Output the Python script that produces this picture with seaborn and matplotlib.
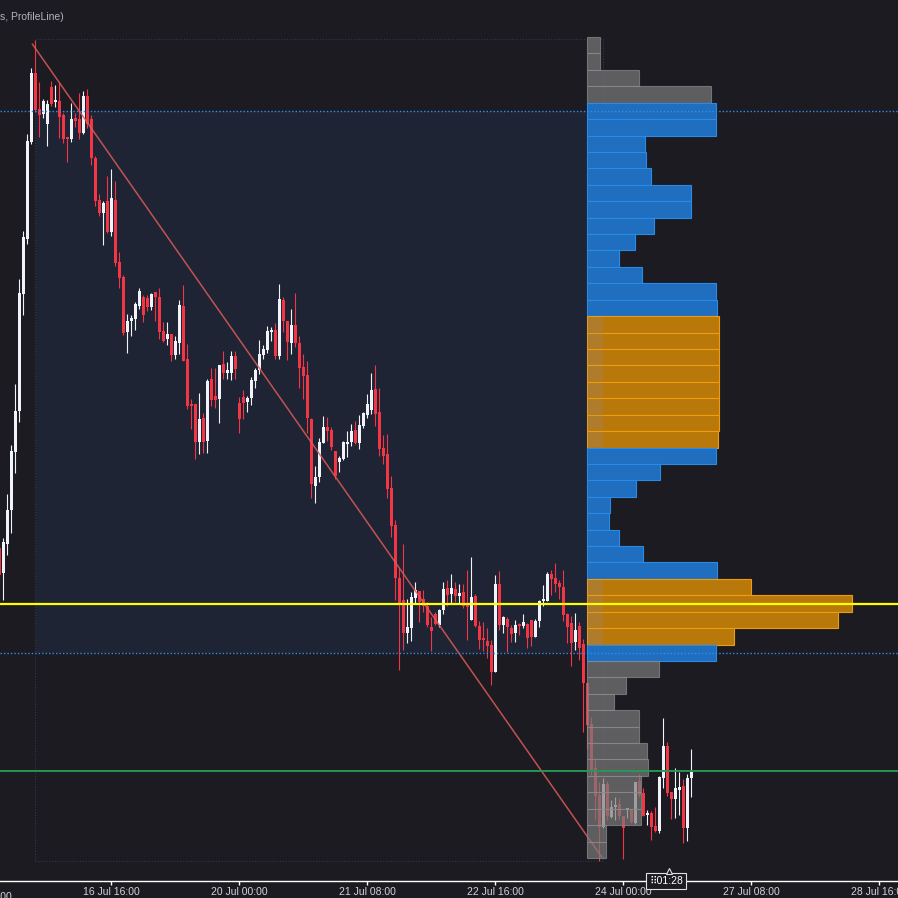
import numpy as np
import matplotlib
matplotlib.use("Agg")
import matplotlib.pyplot as plt
from matplotlib.patches import Rectangle
import seaborn as sns

sns.set_style("dark")
plt.rcParams["font.family"] = ["Liberation Sans", "DejaVu Sans"]

# ---- 1h candles (price in chart units), bar 0 = 15 Jul 12:00 ----
opens = [352, 327, 356, 390, 448, 489, 606, 661, 758, 827, 791, 786, 776, 813, 798, 799, 785, 763, 761, 782,
         781, 767, 804, 781, 742, 700, 687, 699, 668, 700, 638, 623, 568, 579, 581, 594, 603, 602, 593, 608,
         603, 569, 561, 566, 545, 557, 594, 541, 496, 496, 458, 482, 459, 521, 504, 501, 536, 527, 527, 544,
         497, 503, 498, 502, 519, 530, 545, 550, 568, 570, 544, 600, 579, 557, 575, 557, 533, 525, 481, 414,
         423, 457, 473, 470, 449, 438, 441, 456, 458, 470, 457, 474, 485, 490, 511, 488, 452, 446, 412, 375,
         322, 300, 267, 272, 302, 309, 301, 294, 273, 286, 275, 290, 312, 306, 311, 304, 308, 295, 280, 304,
         274, 262, 259, 255, 228, 316, 275, 281, 272, 267, 276, 274, 276, 280, 263, 279, 299, 299, 326, 322,
         317, 313, 286, 277, 258, 274, 256, 217, 176, 132, 105, 73, 116, 83, 93, 96, 84, 90, 91, 77,
         119, 107, 85, 87, 74, 69, 122, 154, 108, 101, 110, 114, 72, 122]
highs = [355, 362, 406, 455, 516, 621, 669, 766, 832, 860, 818, 801, 800, 819, 815, 818, 787, 763, 797, 787,
         807, 809, 811, 785, 744, 706, 699, 724, 731, 719, 648, 625, 586, 585, 598, 612, 605, 605, 607, 608,
         612, 578, 578, 566, 564, 600, 615, 556, 501, 496, 507, 487, 521, 532, 532, 535, 549, 538, 549, 549,
         503, 510, 504, 523, 532, 560, 555, 574, 573, 577, 616, 603, 579, 591, 607, 564, 546, 539, 482, 434,
         462, 484, 483, 473, 449, 444, 459, 469, 476, 479, 485, 488, 506, 527, 535, 512, 465, 466, 424, 380,
         332, 356, 301, 308, 318, 309, 310, 298, 283, 288, 291, 318, 320, 326, 318, 316, 316, 330, 343, 306,
         279, 278, 272, 260, 325, 329, 284, 283, 275, 280, 277, 286, 277, 280, 281, 300, 315, 328, 330, 337,
         320, 330, 287, 284, 287, 278, 261, 217, 183, 140, 118, 122, 119, 100, 103, 102, 84, 92, 91, 118,
         126, 112, 90, 89, 93, 124, 182, 158, 108, 132, 128, 121, 126, 151]
lows = [315, 300, 345, 367, 427, 478, 585, 656, 756, 788, 763, 782, 754, 794, 793, 762, 757, 738, 758, 773,
        761, 766, 772, 735, 694, 684, 655, 667, 664, 634, 612, 565, 547, 564, 570, 591, 578, 589, 590, 579,
        561, 558, 555, 539, 541, 546, 539, 491, 471, 441, 446, 447, 447, 494, 492, 477, 521, 521, 520, 521,
        467, 481, 488, 495, 512, 526, 541, 547, 559, 541, 541, 568, 540, 546, 553, 512, 501, 467, 402, 397,
        418, 457, 459, 450, 421, 428, 440, 443, 454, 456, 451, 472, 482, 486, 474, 444, 436, 402, 363, 300,
        230, 250, 257, 259, 297, 278, 288, 273, 249, 275, 273, 286, 294, 297, 298, 297, 292, 260, 280, 273,
        251, 249, 242, 215, 228, 270, 267, 248, 258, 258, 265, 272, 252, 254, 263, 273, 294, 299, 305, 308,
        301, 279, 257, 234, 250, 240, 168, 151, 125, 80, 39, 72, 80, 82, 80, 81, 41, 82, 77, 76,
        103, 84, 75, 60, 68, 67, 112, 104, 81, 82, 85, 57, 59, 103]
closes = [325, 358, 390, 449, 489, 607, 663, 759, 827, 790, 785, 799, 796, 796, 800, 783, 761, 761, 781, 779,
          767, 804, 776, 742, 699, 687, 697, 668, 702, 637, 622, 567, 579, 582, 596, 609, 585, 593, 606, 603,
          568, 559, 566, 545, 559, 595, 539, 494, 494, 458, 481, 458, 519, 500, 500, 535, 527, 530, 544, 531,
          481, 497, 502, 520, 530, 546, 551, 569, 570, 544, 601, 579, 558, 575, 557, 532, 524, 482, 416, 423,
          458, 473, 469, 453, 424, 442, 458, 458, 469, 457, 475, 487, 496, 510, 486, 451, 444, 411, 374, 322,
          297, 267, 273, 303, 310, 298, 294, 275, 269, 276, 290, 311, 305, 312, 304, 307, 294, 293, 303, 274,
          260, 260, 254, 228, 316, 275, 283, 273, 266, 275, 274, 278, 262, 263, 279, 299, 301, 326, 321, 316,
          313, 285, 273, 257, 270, 252, 217, 175, 130, 104, 73, 116, 84, 93, 95, 84, 72, 92, 78, 118,
          105, 84, 87, 73, 69, 123, 154, 107, 101, 112, 113, 72, 122, 128]

tick_bars = [-4, 28, 60, 92, 124, 156, 188, 220]
tick_labels = ["15 Jul 08:00", "16 Jul 16:00", "20 Jul 00:00", "21 Jul 08:00",
               "22 Jul 16:00", "24 Jul 00:00", "27 Jul 08:00", "28 Jul 16:00"]

# ---- volume profile, top row first ----
profile_vol = [13, 13, 52, 124, 129, 129, 58, 59, 64, 104, 104, 67, 48, 32, 55, 129, 130,
               132, 132, 132, 132, 132, 132, 132, 131, 129, 73, 49, 23, 22, 32, 56, 130,
               164, 265, 251, 147, 129, 72, 39, 27, 52, 52, 60, 61, 54, 54, 54, 19, 19]
profile_kind = (["out"] * 4 + ["va"] * 13 + ["hvn"] * 8 + ["va"] * 8 + ["hvn"] * 4
                + ["va"] + ["out"] * 12)
profile_high, profile_low = 863, 42

poc, vah, val = 296.5, 789.5, 247.5
green_level = 129
range_start, range_end = 8.9, 150.9
range_high, range_low = 861, 39
profile_anchor = 146.9
trend_x = [8.25, 150.6]
trend_y = [856, 43]

BG = "#1c1b21"
UP, DOWN = "#f0f3fa", "#f23645"

fig = plt.figure(figsize=(8.98, 8.98), dpi=100, facecolor=BG)
ax = fig.add_axes([0, 17 / 898, 1, 881 / 898])
ax.set_facecolor(BG)

o = np.array(opens); h = np.array(highs); l = np.array(lows); c = np.array(closes)
x = np.arange(len(o))
cols = np.where(c >= o, UP, DOWN)

# range box + value area fill
ax.add_patch(Rectangle((range_start + 0.25, val), profile_anchor - range_start - 0.25, vah - val,
                       facecolor="#1e2433", edgecolor="none", zorder=0.5))
ax.add_patch(Rectangle((range_start, range_low), range_end - range_start, range_high - range_low,
                       fill=False, edgecolor="#2c3a4e", lw=0.8, ls=(0, (1, 1.5)), zorder=0.6))

# candles
ax.vlines(x, l, h, colors=cols, lw=0.8, zorder=2)
body_h = np.maximum(np.abs(c - o), 1.5)
ax.bar(x, body_h, bottom=np.minimum(o, c), width=0.72, color=cols, linewidth=0, zorder=2.1)

sns.lineplot(x=trend_x, y=trend_y, ax=ax, color="#e05a5a", lw=1.1, alpha=0.85, zorder=3)

ax.set_xlim(0.175, 224.675)
ax.set_ylim(19, 900)
ax.set_xticks(tick_bars[1:])
ax.set_xticklabels(tick_labels[1:])
ax.text(tick_bars[0], -0.012, tick_labels[0], transform=ax.get_xaxis_transform(),
        ha="center", va="top", color="#d1d4dc", fontsize=7.5, clip_on=False)
ax.tick_params(axis="x", colors="white", labelcolor="#d1d4dc", length=3, width=1,
               pad=1.5, labelsize=7.5, bottom=True)
ax.set_yticks([])
ax.set_xlabel(""); ax.set_ylabel("")
for s in ["top", "left", "right"]:
    ax.spines[s].set_visible(False)
ax.spines["bottom"].set_color("white")
ax.spines["bottom"].set_linewidth(1)
ax.grid(False)

# profile on its own volume scale (0 at the anchor)
axp = ax.twiny()
axp.set_xlim(-587, 311)
axp.axis("off")
edges = np.linspace(profile_high, profile_low, len(profile_vol) + 1)
centers = (edges[:-1] + edges[1:]) / 2
row_h = edges[0] - edges[1]
fills = {"out": "#7b7b7b", "va": "#1f6ebf", "hvn": "#b8790a"}
lines = {"out": "#8c8c8c", "va": "#2a8ae8", "hvn": "#ee9c10"}
alphas = {"out": 0.7, "va": 1.0, "hvn": 1.0}
for yc, v, k in zip(centers, profile_vol, profile_kind):
    axp.barh(yc, v, height=row_h, left=0, color=fills[k], edgecolor=lines[k],
             linewidth=0.8, alpha=alphas[k], zorder=2)
    if k == "hvn":
        # lighter strip at the left end of the high-volume rows
        axp.barh(yc, 16, height=row_h - 1.5, left=0, color="#8c8cb4", alpha=0.2,
                 linewidth=0, zorder=2.5)

# levels
axp.axhline(vah, color="#2f8ff0", lw=1, ls=(0, (1, 1.5)), zorder=3)
axp.axhline(val, color="#2f8ff0", lw=1, ls=(0, (1, 1.5)), zorder=3)
axp.axhline(poc, color="#ffff00", lw=1.6, zorder=3.2)
axp.axhline(green_level + 1.2, color="#b03040", lw=0.6, zorder=3.1)
axp.axhline(green_level, color="#1f9e55", lw=1.3, zorder=3.2)

# countdown label
ax.annotate("⠿01:28", xy=(166.7, 0.0), xycoords=("data", "axes fraction"),
            ha="center", va="center", color="white", fontsize=7.5, annotation_clip=False,
            family=["Liberation Sans", "DejaVu Sans"],
            bbox=dict(boxstyle="square,pad=0.3", facecolor=BG, edgecolor="#e0e0e0", lw=0.8),
            zorder=10)
ax.plot([167.5], [0.0118], transform=ax.get_xaxis_transform(), marker="^", ms=5,
        mfc=BG, mec="#e0e0e0", mew=0.8, clip_on=False, zorder=11)

fig.text(0.0, 1 - 17 / 898, "s, ProfileLine)", ha="left", va="center",
         color="#b2b5be", fontsize=7.5)

fig.savefig("out.png", dpi=100, facecolor=BG)
